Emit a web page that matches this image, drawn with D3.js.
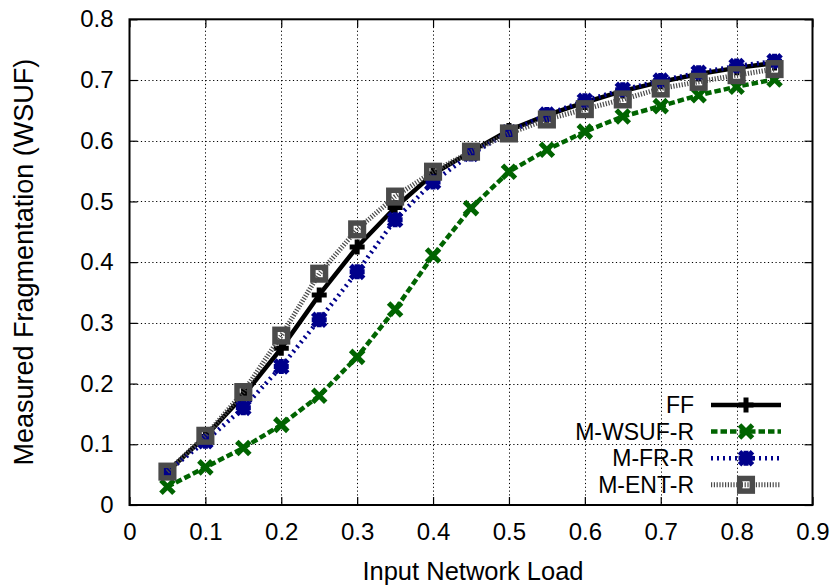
<!DOCTYPE html>
<html>
<head>
<meta charset="utf-8">
<script src="https://cdn.jsdelivr.net/npm/d3@7"></script>
<style>
  html, body { margin: 0; padding: 0; background: #fff; }
  svg { display: block; font-family: "Liberation Sans", Arial, Helvetica, sans-serif; }
</style>
</head>
<body>
<svg id="chart" width="836" height="585"></svg>
<script>
// Input network load (x) and measured WSUF fragmentation per strategy
const loads = [0.05, 0.10, 0.15, 0.20, 0.25, 0.30, 0.35, 0.40, 0.45, 0.50, 0.55, 0.60, 0.65, 0.70, 0.75, 0.80, 0.85];
const ffValues    = [0.055, 0.113, 0.180, 0.258, 0.346, 0.425, 0.490, 0.545, 0.582, 0.617, 0.642, 0.663, 0.682, 0.697, 0.710, 0.720, 0.728];
const mWsufValues = [0.030, 0.062, 0.094, 0.132, 0.180, 0.244, 0.322, 0.411, 0.489, 0.549, 0.585, 0.615, 0.640, 0.657, 0.675, 0.689, 0.701];
const mFrValues   = [0.055, 0.105, 0.160, 0.228, 0.305, 0.384, 0.470, 0.532, 0.578, 0.614, 0.643, 0.666, 0.684, 0.699, 0.712, 0.723, 0.731];
const mEntValues  = [0.055, 0.114, 0.186, 0.279, 0.381, 0.454, 0.508, 0.549, 0.582, 0.612, 0.635, 0.652, 0.668, 0.686, 0.697, 0.708, 0.718];

const seriesNames = ["FF", "M-WSUF-R", "M-FR-R", "M-ENT-R"];
const xTicks = [0, 0.1, 0.2, 0.3, 0.4, 0.5, 0.6, 0.7, 0.8, 0.9];
const yTicks = [0, 0.1, 0.2, 0.3, 0.4, 0.5, 0.6, 0.7, 0.8];
const xTitle = "Input Network Load";
const yTitle = "Measured Fragmentation (WSUF)";

const styles = [
  { color: "#000000", dash: null,      width: 4.5, marker: "plus" },
  { color: "#006400", dash: "6.5,3",   width: 4.5, marker: "cross" },
  { color: "#00008b", dash: "2,4",     width: 4.5, marker: "star" },
  { color: "#4a4a4a", dash: "1.2,1.6", width: 5,   marker: "box" }
];

const series = seriesNames.map((name, i) => ({
  name,
  values: [ffValues, mWsufValues, mFrValues, mEntValues][i],
  style: styles[i]
}));

const svg = d3.select("#chart");
const plotLeft = 129.5, plotRight = 812.5, plotTop = 19.3, plotBottom = 505;

const x = d3.scaleLinear().domain([0, 0.9]).range([plotLeft, plotRight]);
const y = d3.scaleLinear().domain([0, 0.8]).range([plotBottom, plotTop]);

// Grid
const grid = svg.append("g").attr("stroke", "#000").attr("stroke-width", 1).attr("stroke-dasharray", "1.2,2.6");
grid.selectAll(".gx").data(xTicks.slice(1, -1)).join("line")
  .attr("x1", d => Math.round(x(d)) + 0.5).attr("x2", d => Math.round(x(d)) + 0.5)
  .attr("y1", plotTop).attr("y2", plotBottom);
grid.selectAll(".gy").data(yTicks.slice(1, -1)).join("line")
  .attr("y1", d => Math.round(y(d)) + 0.5).attr("y2", d => Math.round(y(d)) + 0.5)
  .attr("x1", plotLeft).attr("x2", plotRight);

// Axes (inward ticks, mirrored)
const fmt = d => d === 0 ? "0" : d3.format(".1f")(d);
const axB = svg.append("g").attr("transform", `translate(0,${plotBottom})`)
  .call(d3.axisBottom(x).tickValues(xTicks).tickFormat(fmt).tickSizeInner(-8).tickSizeOuter(0).tickPadding(18));
const axL = svg.append("g").attr("transform", `translate(${plotLeft},0)`)
  .call(d3.axisLeft(y).tickValues(yTicks).tickFormat(fmt).tickSizeInner(-8).tickSizeOuter(0).tickPadding(16));
const axT = svg.append("g").attr("transform", `translate(0,${plotTop})`)
  .call(d3.axisTop(x).tickValues(xTicks).tickFormat("").tickSizeInner(-8).tickSizeOuter(0));
const axR = svg.append("g").attr("transform", `translate(${plotRight},0)`)
  .call(d3.axisRight(y).tickValues(yTicks).tickFormat("").tickSizeInner(-8).tickSizeOuter(0));
[axB, axL, axT, axR].forEach(a => {
  a.select(".domain").remove();
  a.selectAll(".tick line").attr("stroke", "#000").attr("stroke-width", 1.2);
  a.selectAll(".tick text").attr("fill", "#000").attr("font-size", 24)
    .attr("font-family", "'Liberation Sans', Arial, sans-serif");
});

// Frame
svg.append("rect").attr("x", plotLeft).attr("y", plotTop).attr("width", plotRight - plotLeft).attr("height", plotBottom - plotTop)
  .attr("fill", "none").attr("stroke", "#000").attr("stroke-width", 2);

// Axis titles
svg.append("text").attr("x", (plotLeft + plotRight) / 2 + 2).attr("y", 580).attr("text-anchor", "middle")
  .attr("font-size", 25.5).attr("fill", "#000").text(xTitle);
svg.append("text").attr("transform", `translate(33,${(plotTop + plotBottom) / 2}) rotate(-90)`)
  .attr("text-anchor", "middle").attr("font-size", 27).attr("fill", "#000").text(yTitle);

// Marker drawing
function drawMarker(g, type, color) {
  if (type === "plus") {
    g.append("path").attr("d", "M-7.5,0H7.5M0,-7.5V7.5")
      .attr("stroke", color).attr("stroke-width", 5).attr("fill", "none");
  } else if (type === "cross") {
    g.append("path").attr("d", "M-6.5,-6.5L6.5,6.5M-6.5,6.5L6.5,-6.5")
      .attr("stroke", color).attr("stroke-width", 5).attr("fill", "none");
  } else if (type === "star") {
    g.append("path").attr("d", "M-6.5,-6.5L6.5,6.5M-6.5,6.5L6.5,-6.5M-7.5,0H7.5M0,-7.5V7.5")
      .attr("stroke", color).attr("stroke-width", 5).attr("fill", "none");
  } else if (type === "box") {
    g.append("rect").attr("x", -6.3).attr("y", -6.3).attr("width", 12.6).attr("height", 12.6)
      .attr("stroke", color).attr("stroke-width", 5.5).attr("fill", "none");
  }
}

const plot = svg.append("g");
const line = d3.line().x(d => x(d[0])).y(d => y(d[1]));

series.forEach(s => {
  const pts = loads.map((l, i) => [l, s.values[i]]);
  const g = plot.append("g");
  g.append("path").datum(pts).attr("d", line)
    .attr("fill", "none").attr("stroke", s.style.color).attr("stroke-width", s.style.width)
    .attr("stroke-dasharray", s.style.dash);
  pts.forEach(p => {
    const m = g.append("g").attr("transform", `translate(${x(p[0])},${y(p[1])})`);
    drawMarker(m, s.style.marker, s.style.color);
  });
});

// Legend
const legend = svg.append("g");
const legendTop = 405, legendStep = 26.6;
series.forEach((s, i) => {
  const ly = legendTop + i * legendStep;
  legend.append("text").attr("x", 694).attr("y", ly).attr("dy", "0.36em").attr("text-anchor", "end")
    .attr("font-size", 23).attr("fill", "#000").text(s.name);
  legend.append("line").attr("x1", 711).attr("x2", 781).attr("y1", ly).attr("y2", ly)
    .attr("stroke", s.style.color).attr("stroke-width", s.style.width).attr("stroke-dasharray", s.style.dash);
  const m = legend.append("g").attr("transform", `translate(746,${ly})`);
  drawMarker(m, s.style.marker, s.style.color);
});
</script>
</body>
</html>
